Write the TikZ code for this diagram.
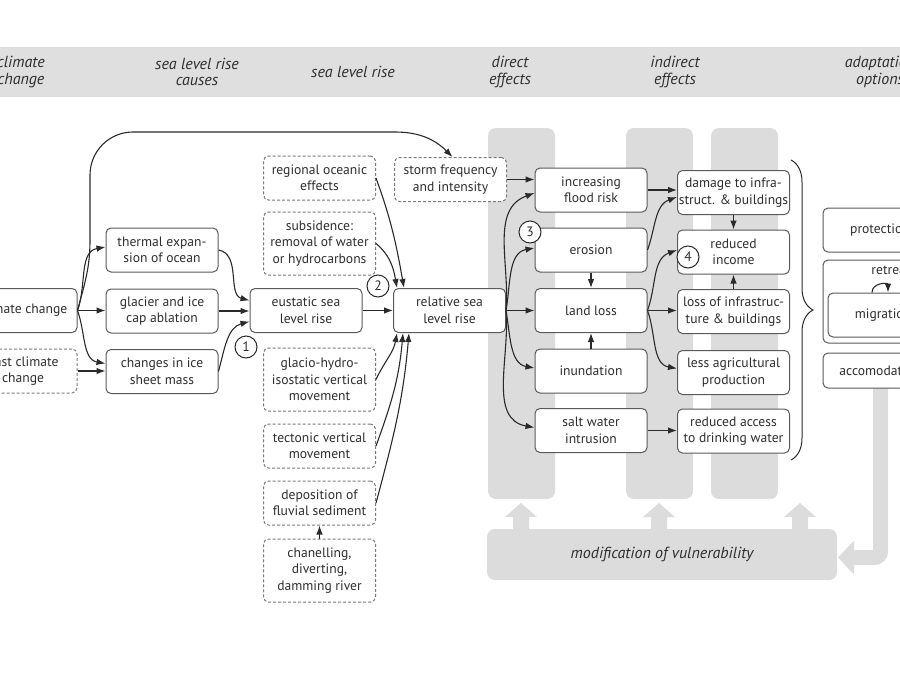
\documentclass[tikz,border=0pt]{standalone}
\usepackage{fontspec}
\setmainfont{PT Sans}
\usetikzlibrary{arrows.meta,positioning,decorations.pathreplacing}

\definecolor{bandgray}{HTML}{DFDFDF}
\definecolor{colgray}{HTML}{DCDCDC}
\definecolor{boxline}{HTML}{5A5A5A}
\definecolor{dashline}{HTML}{7A7A7A}
\definecolor{lineblack}{HTML}{2A2A2A}
\definecolor{txtgray}{HTML}{2E2E2E}

\newcommand{\boxfont}{\fontsize{13.6}{16.5}\selectfont}
\newcommand{\headfont}{\itshape\fontsize{16}{16.5}\selectfont}

\tikzset{
  box/.style={draw=boxline, line width=1pt, rounded corners=5pt, fill=white, text=txtgray,
    align=center, font=\boxfont, minimum width=112pt, minimum height=44pt, inner sep=1pt},
  dbox/.style={box, draw=dashline, dash pattern=on 3pt off 2pt},
  head/.style={text=txtgray, align=center, font=\headfont},
  num/.style={circle, draw=lineblack, line width=1pt, fill=white, text=txtgray,
    minimum size=22pt, inner sep=0pt, font=\boxfont},
  arr/.style={draw=lineblack, line width=1.1pt, -{Latex[length=9pt,width=6.5pt]}},
}

\begin{document}
\begin{tikzpicture}[x=1pt,y=1pt]
  \useasboundingbox (0,0) rectangle (900,-675);
  \clip (0,0) rectangle (900,-675);
  % header band
  \fill[bandgray] (0,-47) rectangle (900,-97);
  \node[head] (hclim) at (21,-72) {climate\\change};
  \node[head] (hcause) at (197,-72) {sea level rise\\causes};
  \node[head] (hslr) at (353,-72) {sea level rise};
  \node[head] (hdir) at (510,-72) {direct\\effects};
  \node[head] (hind) at (675,-72) {indirect\\effects};
  \node[head] (hadapt) at (880,-72) {adaptation\\options};

  % gray columns and block arrows
  \foreach \cx in {488,626,711}{
    \fill[colgray, rounded corners=8pt] (\cx,-128) rectangle (\cx+67,-499);
  }
  \foreach \ax in {521,659,800}{
    \fill[colgray] (\ax-8,-530) -- (\ax-8,-517) -- (\ax-16,-517) -- (\ax,-503)
      -- (\ax+16,-517) -- (\ax+8,-517) -- (\ax+8,-530) -- cycle;
  }
  \node[fill=colgray, rounded corners=8pt, minimum width=350pt, minimum height=51pt,
    text=txtgray, font=\headfont] (modv) at (662,-554.5) {modification of vulnerability};
  \draw[colgray, line width=15pt, rounded corners=6pt] (880.5,-380) |- (853,-557.5);
  \fill[colgray] (854,-540.5) -- (838,-557.5) -- (854,-574.5) -- cycle;

  % climate change and causes
  \node[box, minimum width=108pt] (clim) at (23,-310.5) {climate change};
  \node[dbox, minimum width=108pt] (pclim) at (23,-371) {past climate\\change};
  \node[box] (therm) at (162,-250) {thermal expan-\\sion of ocean};
  \node[box] (glac) at (162,-311) {glacier and ice\\cap ablation};
  \node[box] (icesh) at (162,-371.5) {changes in ice\\sheet mass};
  \node[box] (eust) at (306,-310.5) {eustatic sea\\level rise};
  \node[box] (rel) at (449.5,-310.5) {relative sea\\level rise};
  \node[dbox] (regio) at (319.5,-178) {regional oceanic\\effects};
  \node[dbox, minimum height=63pt] (subs) at (319.5,-243.5) {subsidence:\\removal of water\\or hydrocarbons};
  \node[dbox, minimum height=63pt] (glacio) at (319.5,-379.5) {glacio-hydro-\\isostatic vertical\\movement};
  \node[dbox] (tect) at (319.5,-446) {tectonic vertical\\movement};
  \node[dbox] (depo) at (319.5,-503) {deposition of\\fluvial sediment};
  \node[dbox, minimum height=63pt] (chan) at (319.5,-570.5) {chanelling,\\diverting,\\damming river};
  \node[dbox] (storm) at (450.5,-179.5) {storm frequency\\and intensity};

  % direct effects
  \node[box] (flood) at (591,-190) {increasing\\flood risk};
  \node[box] (eros) at (591,-250) {erosion};
  \node[box] (land) at (591,-310.5) {land loss};
  \node[box] (inund) at (591,-371) {inundation};
  \node[box] (salt) at (591,-430.5) {salt water\\intrusion};

  % indirect effects
  \node[box] (dam) at (733.5,-192.5) {damage to infra-\\struct. \& buildings};
  \node[box] (income) at (733.5,-252) {reduced\\income};
  \node[box] (lossinf) at (733.5,-311.5) {loss of infrastruc-\\ture \& buildings};
  \node[box] (agri) at (733.5,-372.5) {less agricultural\\production};
  \node[box] (access) at (733.5,-431) {reduced access\\to drinking water};
  \draw[lineblack, line width=1pt, decorate, decoration={brace, amplitude=22pt}]
    (791,-160) -- (791,-460);

  % adaptation options
  \node[box, minimum width=114pt] (prot) at (880,-230) {protection};
  \node[box, minimum width=136pt, minimum height=83pt] (retr) at (891,-301.5) {};
  \node[text=txtgray, font=\boxfont, below=3pt of retr.north] (retrt) {retreat};
  \node[box, minimum width=110pt] (migr) at (883,-315) {migration};
  \node[box, minimum width=114pt, minimum height=35pt] (acco) at (880,-370.5) {accomodation};
  \draw[arr] ([xshift=-11pt]migr.north) to[out=90,in=90,looseness=1.6] ([xshift=5pt]migr.north);

  % connectors
  \draw[arr] (clim.east) to[out=75,in=-90] (90,-240) -- (90,-175) to[out=90,in=180] (133,-132)
    -- (395,-132) to[out=0,in=135] ([xshift=2pt]storm.north);
  \draw[arr] (clim.east) to[out=70,in=190] ([yshift=3pt]therm.west);
  \draw[arr] (clim.east) -- (clim.east -| glac.west);
  \draw[arr] (clim.east) to[out=-70,in=170] ([yshift=8pt]icesh.west);
  \draw[arr] (pclim.east) -- (pclim.east -| icesh.west);
  \draw[arr] (therm.east) to[out=-10,in=165] ([yshift=10pt]eust.west);
  \draw[arr] (glac.east) -- (glac.east -| eust.west);
  \draw[arr] (icesh.east) to[out=75,in=195] ([yshift=-11pt]eust.west);
  \draw[arr] (eust.east) -- (rel.west);
  \draw[arr] (regio.east) to[out=-70,in=100] ([xshift=11pt]rel.north west);
  \draw[arr] (subs.east) to[out=-40,in=100] ([xshift=4pt]rel.north west);
  \draw[arr] (glacio.east) to[out=65,in=-100] ([xshift=4pt]rel.south west);
  \draw[arr] (tect.east) to[out=70,in=-95] ([xshift=10pt]rel.south west);
  \draw[arr] (depo.east) to[out=75,in=-95] ([xshift=16pt]rel.south west);
  \draw[arr] (chan.north) -- (depo.south);
  \draw[arr] (storm.east) -- (storm.east -| flood.west);
  \draw[arr] (rel.east) to[out=85,in=200] ([yshift=-3pt]flood.west);
  \draw[arr] (rel.east) to[out=80,in=190] ([yshift=2pt]eros.west);
  \draw[arr] (rel.east) -- (land.west);
  \draw[arr] (rel.east) to[out=-80,in=170] ([yshift=3pt]inund.west);
  \draw[arr] (rel.east) to[out=-85,in=170] ([yshift=3pt]salt.west);
  \draw[arr] (eros.south) -- (land.north);
  \draw[arr] (inund.north) -- (land.south);
  \draw[arr] (flood.east) -- (flood.east -| dam.west);
  \draw[arr] (eros.east) to[out=70,in=200] ([yshift=-4.5pt]dam.west);
  \draw[arr] (land.east) to[out=70,in=200] ([yshift=2pt]income.west);
  \draw[arr] (land.east) -- (land.east -| lossinf.west);
  \draw[arr] (land.east) to[out=-70,in=170] ([yshift=4pt]agri.west);
  \draw[arr] (salt.east) -- (salt.east -| access.west);
  \draw[arr] (dam.south) -- (income.north);
  \draw[arr] (lossinf.north) -- (income.south);

  % numbers
  \node[num] (n1) at (246,-347) {1};
  \node[num] (n2) at (378,-286) {2};
  \node[num] (n3) at (530,-232) {3};
  \node[num] (n4) at (688,-257) {4};
\end{tikzpicture}
\end{document}
